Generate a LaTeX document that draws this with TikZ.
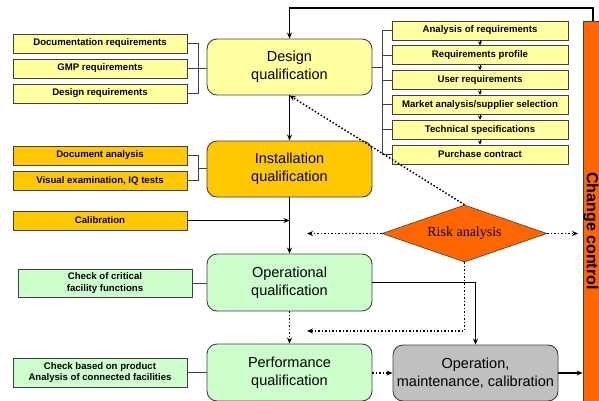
\documentclass[tikz,border=0pt]{standalone}
\usepackage{fontspec}
\setmainfont{Liberation Sans}
\newfontfamily\riskfont{Liberation Serif}
\usetikzlibrary{shapes.geometric,arrows.meta}

\definecolor{paleyellow}{HTML}{FFFFA0}
\definecolor{deepyellow}{HTML}{FFC800}
\definecolor{palegreen}{HTML}{CCFFCC}
\definecolor{midgrey}{HTML}{C0C0C0}
\definecolor{vivid}{HTML}{FF6600}
\definecolor{edge}{HTML}{404040}

\tikzset{
  x=1pt, y=-1pt,
  phase/.style={draw=edge, line width=0.9pt, rounded corners=10pt,
    minimum width=165pt, minimum height=56pt, align=center,
    font=\fontsize{14.5}{18}\selectfont, inner sep=2pt},
  task/.style={draw=edge, line width=0.9pt, minimum width=174pt,
    minimum height=19pt, align=center, inner sep=1pt,
    font=\bfseries\fontsize{9.6}{11.5}\selectfont},
  subtask/.style={task, minimum width=176pt},
  conn/.style={line width=1.5pt, black},
  dotconn/.style={line width=1.5pt, black, dotted},
  tip/.style={-{Stealth[length=6pt,width=5pt]}},
  smalltip/.style={-{Stealth[length=4pt,width=4pt]}},
  brace/.style={line width=0.9pt, edge},
}

\begin{document}
\begin{tikzpicture}
\useasboundingbox (0,0) rectangle (599,401);

% qualification phases
\node[phase, fill=paleyellow] (dq) at (289.5,67) {Design\\qualification};
\node[phase, fill=deepyellow] (iq) at (289.5,169) {Installation\\qualification};
\node[phase, fill=palegreen, minimum height=57pt] (oq) at (289.5,282.5) {Operational\\qualification};
\node[phase, fill=palegreen, minimum height=57pt] (pq) at (289.5,372.5) {Performance\\qualification};
\node[phase, fill=midgrey] (op) at (475.5,373) {Operation,\\maintenance, calibration};

% change control bar
\node[draw=edge, line width=0.6pt, fill=vivid, minimum width=16pt, minimum height=420pt,
      inner sep=0pt, font=\bfseries\fontsize{16}{16}\selectfont] (cc) at (591,231)
      {\rotatebox{-90}{Change control}};

% risk analysis
\node[diamond, draw=edge, line width=0.6pt, fill=vivid, shape aspect=2.9, inner sep=0pt,
      minimum width=165pt, minimum height=57pt,
      font=\riskfont\fontsize{14}{14}\selectfont] (risk) at (464.5,233.5) {Risk analysis};

% design qualification inputs
\node[task, fill=paleyellow] (docreq) at (100,43.5) {Documentation requirements};
\node[task, fill=paleyellow] (gmp) at (100,68.5) {GMP requirements};
\node[task, fill=paleyellow] (desreq) at (100,93.5) {Design requirements};

% installation qualification inputs
\node[task, fill=deepyellow] (docan) at (100,155.5) {Document analysis};
\node[task, fill=deepyellow] (visual) at (100,180.5) {Visual examination, IQ tests};
\node[task, fill=deepyellow] (calib) at (100,220.5) {Calibration};

% operational / performance inputs
\node[task, fill=palegreen, minimum height=28pt] (crit) at (105,283)
      {Check of critical\\facility functions};
\node[task, fill=palegreen, minimum height=29pt] (prod) at (100,372.5)
      {Check based on product\\Analysis of connected facilities};

% design qualification steps
\node[subtask, fill=paleyellow] (r1) at (480,30.5) {Analysis of requirements};
\node[subtask, fill=paleyellow] (r2) at (480,55.3) {Requirements profile};
\node[subtask, fill=paleyellow] (r3) at (480,80.1) {User requirements};
\node[subtask, fill=paleyellow] (r4) at (480,104.9) {Market analysis/supplier selection};
\node[subtask, fill=paleyellow] (r5) at (480,129.7) {Technical specifications};
\node[subtask, fill=paleyellow] (r6) at (480,154.5) {Purchase contract};

% brackets on the left
\draw[brace] (docreq.east) -- (198,43.5) -- (198,93.5) -- (desreq.east);
\draw[brace] (gmp.east) -- (gmp.east -| dq.west);
\draw[brace] (docan.east) -- (198,155.5) -- (198,180.5) -- (visual.east);
\draw[brace] (198,168) -- (iq.west |- 198,168);
\draw[brace] (crit.east) -- (crit.east -| oq.west);
\draw[brace] (prod.east) -- (prod.east -| pq.west);

% bracket on the right
\draw[brace] (dq.east) -- (382,67);
\draw[brace] (r1.west) -- (382,30.5) -- (382,154.5) -- (r6.west);
\foreach \r in {r2,r3,r4,r5}
  \draw[brace] (\r.west) -- (\r.west -| 382,0);
\foreach \a/\b in {r1/r2,r2/r3,r3/r4,r4/r5,r5/r6}
  \draw[line width=0.9pt, smalltip] (\a.south) -- (\b.north);

% main flow
\draw[conn, tip] (593,21) -- (593,8) -| (dq.north);
\draw[conn, tip] (dq.south) -- (iq.north);
\draw[conn, tip] (iq.south) -- (oq.north);
\draw[conn, tip] (calib.east) -- (calib.east -| iq.south);
\draw[dotconn, tip] (oq.south) -- (pq.north);
\draw[conn, tip] (oq.east) -| (op.north);
\draw[dotconn, tip] (pq.east |- op.west) -- (op.west);
\draw[conn, tip] (op.east) -- (op.east -| cc.west);

% risk analysis feedback
\coordinate (riskL) at (307,233.5);
\coordinate (riskR) at (578,233.5);
\coordinate (riskB) at (307,331);
\draw[dotconn, tip] (risk.north) -- (dq.south);
\draw[dotconn, tip] (risk.west) -- (riskL);
\draw[dotconn, tip] (risk.east) -- (riskR);
\draw[dotconn, tip] (risk.south) |- (riskB);
\end{tikzpicture}
\end{document}
